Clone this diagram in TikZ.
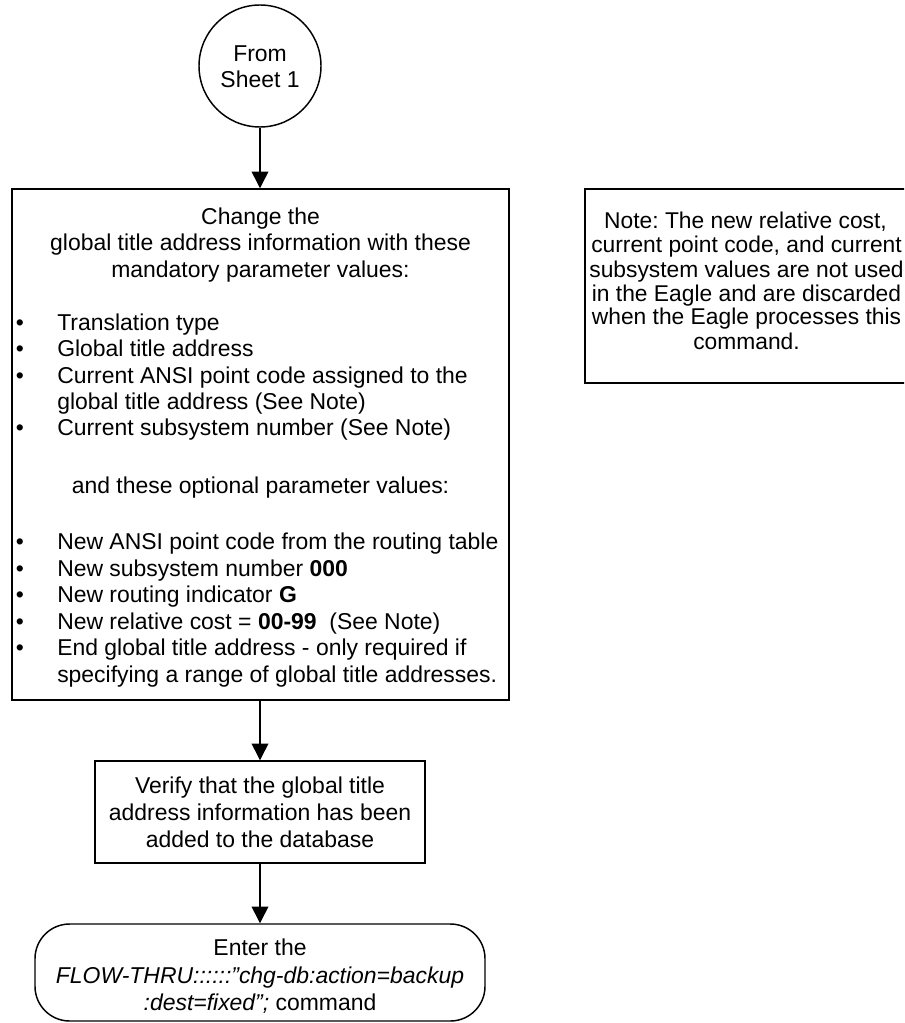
\documentclass[tikz,border=0pt]{standalone}
\usepackage{fontspec}
\setmainfont{Liberation Sans}
\usetikzlibrary{arrows.meta}
\frenchspacing
\begin{document}
\begin{tikzpicture}[x=0.75pt,y=-0.75pt,
  shp/.style={draw, line width=1.1pt, inner sep=0pt},
  txt/.style={inner sep=0pt, font=\fontsize{17.2pt}{20pt}\selectfont},
  ntxt/.style={inner sep=0pt, font=\fontsize{17.1pt}{20pt}\selectfont},
  arr/.style={line width=1.1pt, -{Triangle[width=12.5pt,length=12.5pt]}}]
\clip (0,0) rectangle (904,1023);
\fill[white] (0,0) rectangle (904,1023);
% shapes
\node[shp, circle, minimum size=91.5pt] (circ) at (260,66) {};
\node[shp, rectangle, minimum width=372.75pt, minimum height=383.25pt] (chg) at (260.5,444.5) {};
\node[shp, rectangle, minimum width=247.5pt, minimum height=76.5pt] (ver) at (260,812) {};
\node[shp, rectangle, rounded corners=26pt, minimum width=337.5pt, minimum height=72.75pt] (ent) at (260,972.5) {};
\node[shp, rectangle, minimum width=251.25pt, minimum height=145.5pt] (note) at (752.5,286) {};
% connectors
\draw[arr] (circ.south) -- (circ.south |- chg.north);
\draw[arr] (chg.south -| ver.north) -- (ver.north);
\draw[arr] (ver.south) -- (ent.north);
% circle text
\node[txt, anchor=base] (c1) at (260,62) {From};
\node[txt, anchor=base] (c2) at (260,88) {Sheet 1};
% main box text
\node[txt, anchor=base] (h1) at (260.5,224.5) {Change the};
\node[txt, anchor=base] (h2) at (260.5,251) {global title address information with these};
\node[txt, anchor=base] (h3) at (260.5,277.5) {mandatory parameter values:};
\foreach \y/\t [count=\i] in {330/{Translation type},
  356.5/{Global title address},
  383/{Current ANSI point code assigned to the},
  435.5/{Current subsystem number (See Note)},
  549.5/{New ANSI point code from the routing table},
  576/{New subsystem number \textbf{000}},
  602.5/{New routing indicator \textbf{G}},
  629/{New relative cost = \textbf{00-99}\ \ (See Note)},
  655.5/{End global title address - only required if}}{
  \node[txt, anchor=base] (bd\i) at (20,\y) {•};
  \node[txt, anchor=base west] (bt\i) at (57,\y) {\t};
}
\node[txt, anchor=base west] (bt3b) at (57,409) {global title address (See Note)};
\node[txt, anchor=base] (opt) at (260.5,493) {and these optional parameter values:};
\node[txt, anchor=base west] (bt9b) at (57,682) {specifying a range of global title addresses.};
% verify text
\node[txt, anchor=base] (v1) at (260,793) {Verify that the global title};
\node[txt, anchor=base] (v2) at (260,820) {address information has been};
\node[txt, anchor=base] (v3) at (260,847) {added to the database};
% enter text
\node[txt, anchor=base] (e1) at (260,955) {Enter the};
\node[txt, anchor=base] (e2) at (260,983) {\itshape FLOW-THRU::::::{\char34}chg-db:action=backup};
\node[txt, anchor=base] (e3) at (260,1010) {\textit{:dest=fixed{\char34};} command};
% note text
\node[ntxt, anchor=base] (n1) at (745.5,229) {Note: The new relative cost,};
\node[ntxt, anchor=base] (n2) at (746.5,253) {current point code, and current};
\node[ntxt, anchor=base] (n3) at (746.5,277) {subsystem values are not used};
\node[ntxt, anchor=base] (n4) at (746.5,301) {in the Eagle and are discarded};
\node[ntxt, anchor=base] (n5) at (746.5,325) {when the Eagle processes this};
\node[ntxt, anchor=base] (n6) at (746.5,349) {command.};
\end{tikzpicture}
\end{document}
